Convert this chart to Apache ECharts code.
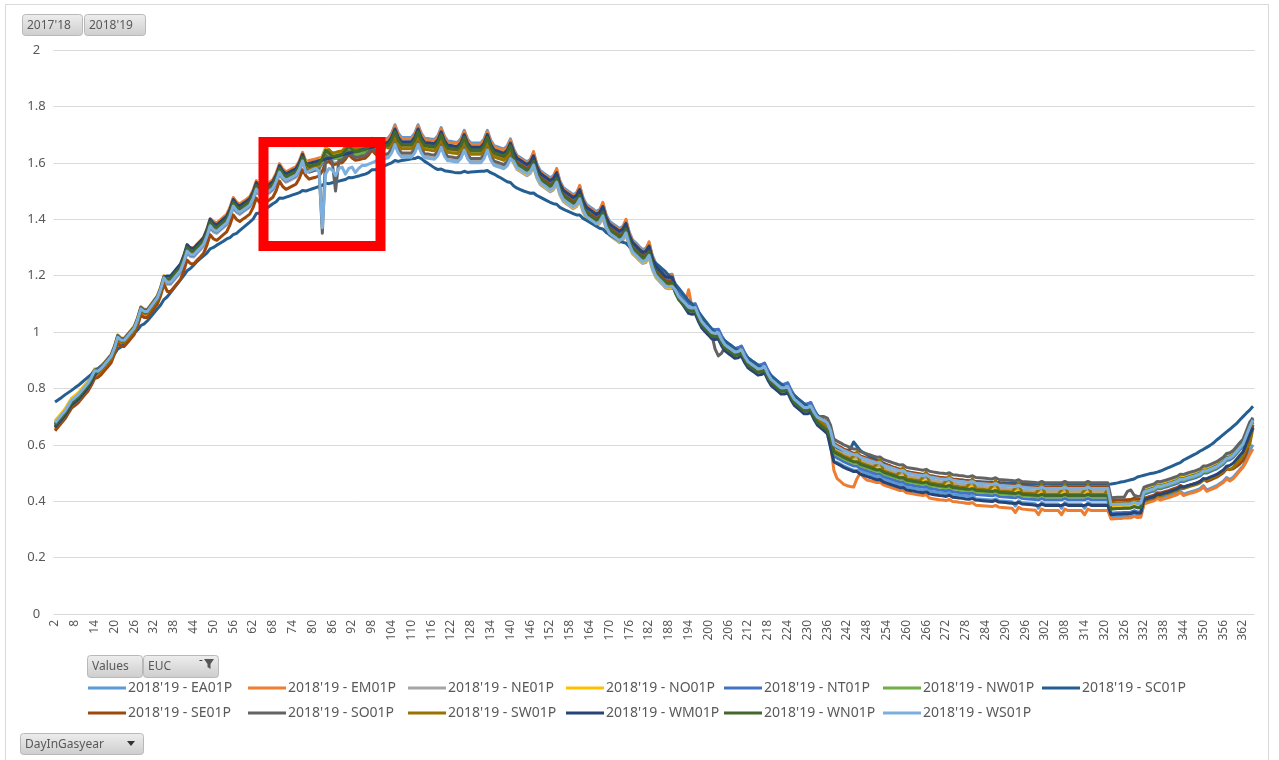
<!DOCTYPE html>
<html>
<head>
<meta charset="utf-8">
<script src="https://cdn.jsdelivr.net/npm/echarts@6/dist/echarts.min.js"></script>
<style>
html,body{margin:0;padding:0;background:#ffffff;}
#chart{width:1279px;height:760px;}
</style>
</head>
<body>
<div id="chart"></div>
<script>
// ---------- DATA (values stored in thousandths of a unit) ----------
const days = [
2,3,4,5,6,7,8,9,10,11,12,13,14,15,16,17,18,19,20,21,
22,23,24,25,26,27,28,29,30,31,32,33,34,35,36,37,38,39,40,41,
42,43,44,45,46,47,48,49,50,51,52,53,54,55,56,57,58,59,60,61,
62,63,64,65,66,67,68,69,70,71,72,73,74,75,76,77,78,79,80,81,
82,83,84,85,86,87,88,89,90,91,92,93,94,95,96,97,98,99,100,101,
102,103,104,105,106,107,108,109,110,111,112,113,114,115,116,117,118,119,120,121,
122,123,124,125,126,127,128,129,130,131,132,133,134,135,136,137,138,139,140,141,
142,143,144,145,146,147,148,149,150,151,152,153,154,155,156,157,158,159,160,161,
162,163,164,165,166,167,168,169,170,171,172,173,174,175,176,177,178,179,180,181,
182,183,184,185,186,187,188,189,190,191,192,193,194,195,196,197,198,199,200,201,
202,203,204,205,206,207,208,209,210,211,212,213,214,215,216,217,218,219,220,221,
222,223,224,225,226,227,228,229,230,231,232,233,234,235,236,237,238,239,240,241,
242,243,244,245,246,247,248,249,250,251,252,253,254,255,256,257,258,259,260,261,
262,263,264,265,266,267,268,269,270,271,272,273,274,275,276,277,278,279,280,281,
282,283,284,285,286,287,288,289,290,291,292,293,294,295,296,297,298,299,300,301,
302,303,304,305,306,307,308,309,310,311,312,313,314,315,316,317,318,319,320,321,
322,323,324,325,326,327,328,329,330,331,332,333,334,335,336,337,338,339,340,341,
342,343,344,345,346,347,348,349,350,351,352,353,354,355,356,357,358,359,360,361,
362,363,364,365];

const yTickValues = [0,0.2,0.4,0.6,0.8,1,1.2,1.4,1.6,1.8,2];

const seriesNames = ["2018'19 - EA01P","2018'19 - EM01P","2018'19 - NE01P","2018'19 - NO01P","2018'19 - NT01P","2018'19 - NW01P","2018'19 - SC01P","2018'19 - SE01P","2018'19 - SO01P","2018'19 - SW01P","2018'19 - WM01P","2018'19 - WN01P","2018'19 - WS01P"];

const ea01p = [
673,687,701,715,734,753,
762,772,786,800,814,834,858,
856,866,880,894,908,938,977,
966,966,980,994,1008,1038,1077,
1068,1068,1084,1100,1116,1146,1187,
1187,1187,1201,1215,1229,1259,1298,
1286,1284,1297,1309,1322,1350,1388,
1373,1368,1378,1388,1398,1423,1458,
1442,1435,1444,1452,1461,1484,1518,
1512,1505,1514,1522,1531,1554,1588,
1569,1559,1565,1571,1577,1597,1628,
1607,1595,1599,1602,1606,1624,1653,
1645,1633,1635,1638,1640,1653,1670,
1657,1649,1651,1654,1656,1668,1685,
1672,1663,1665,1685,1688,1705,1735,
1705,1690,1690,1690,1690,1705,1735,
1704,1687,1686,1684,1683,1696,1725,
1694,1677,1676,1674,1673,1686,1715,
1685,1670,1670,1670,1670,1685,1715,
1681,1661,1657,1653,1649,1659,1685,
1648,1626,1619,1611,1604,1612,1635,
1596,1573,1564,1556,1547,1554,1575,
1536,1513,1504,1496,1487,1494,1515,
1476,1453,1444,1436,1427,1434,1455,
1416,1393,1384,1376,1367,1374,1395,
1354,1327,1316,1304,1293,1296,1315,
1272,1244,1231,1219,1206,1203,1205,
1161,1138,1125,1113,1100,1097,1099,
1071,1048,1035,1023,1010,1007,1009,
985,967,958,950,941,943,949,
925,907,898,890,881,883,889,
864,844,834,824,814,814,819,
794,774,764,754,744,744,749,
724,704,694,684,674,600,540,
538,532,525,520,515,510,510,
506,502,498,494,490,486,487,
478,474,470,466,462,458,459,
450,448,446,444,442,440,443,
436,434,432,430,429,427,431,
424,423,421,420,418,417,420,
409,408,407,406,405,404,408,
402,401,400,399,398,383,401,
395,394,393,392,391,375,395,
390,390,390,390,390,375,395,
390,390,390,390,390,375,395,
390,390,390,390,390,390,342,
343,344,344,345,345,346,351,
347,348,395,399,403,406,415,
409,413,416,420,424,428,436,
425,429,433,436,440,445,455,
440,445,450,455,463,471,484,
477,485,498,512,525,555,580,
600];

const em01p = [
655,669,683,697,716,735,
744,754,768,782,796,816,840,
849,859,873,887,901,931,970,
959,959,973,987,1001,1031,1070,
1061,1061,1077,1093,1109,1139,1180,
1191,1191,1205,1219,1233,1263,1302,
1300,1298,1311,1323,1336,1364,1402,
1392,1387,1397,1407,1417,1442,1477,
1461,1454,1463,1471,1480,1503,1537,
1521,1514,1523,1531,1540,1563,1597,
1578,1568,1574,1580,1586,1606,1637,
1605,1608,1611,1614,1617,1620,1623,
1626,1629,1632,1635,1638,1641,1644,
1647,1650,1653,1656,1659,1662,1665,
1668,1671,1674,1680,1683,1700,1730,
1700,1685,1685,1685,1685,1700,1730,
1699,1682,1681,1679,1678,1691,1720,
1689,1672,1671,1669,1668,1681,1710,
1680,1665,1665,1665,1665,1680,1710,
1676,1656,1652,1648,1644,1654,1680,
1643,1621,1614,1606,1599,1607,1640,
1591,1568,1559,1551,1542,1549,1580,
1531,1508,1499,1491,1482,1489,1520,
1471,1448,1439,1431,1422,1429,1460,
1411,1388,1379,1371,1362,1369,1400,
1349,1322,1311,1299,1288,1291,1320,
1267,1239,1226,1214,1201,1198,1200,
1152,1129,1116,1104,1150,1088,1090,
1062,1039,1026,1014,1001,998,1000,
976,958,949,941,932,934,940,
916,898,889,881,872,874,880,
855,835,825,815,805,805,810,
785,765,755,745,735,735,740,
715,695,685,675,665,600,510,
480,470,460,455,452,450,480,
500,485,475,472,470,466,467,
458,454,450,446,442,438,439,
430,428,426,424,422,420,423,
411,409,407,405,404,402,406,
399,398,396,395,393,392,395,
386,385,384,383,382,381,385,
379,378,377,376,375,360,378,
372,371,370,369,368,352,372,
367,367,367,367,367,352,372,
367,367,367,367,367,352,372,
367,367,367,367,367,367,337,
338,339,339,340,340,341,346,
342,343,390,394,398,401,410,
404,408,411,415,419,423,431,
420,424,428,431,435,440,450,
435,440,445,450,458,466,479,
472,480,493,507,520,540,565,
585];

const ne01p = [
680,694,708,722,741,760,
769,779,793,807,821,841,865,
864,874,888,902,916,946,985,
974,974,988,1002,1016,1046,1085,
1076,1076,1092,1108,1124,1154,1195,
1169,1169,1183,1197,1211,1241,1280,
1268,1266,1279,1291,1304,1332,1370,
1355,1350,1360,1370,1380,1405,1440,
1424,1417,1426,1434,1443,1466,1500,
1484,1477,1486,1494,1503,1526,1560,
1541,1531,1537,1543,1549,1569,1600,
1579,1567,1571,1574,1578,1596,1625,
1610,1598,1600,1603,1605,1618,1635,
1622,1614,1616,1619,1621,1633,1650,
1637,1628,1630,1630,1623,1640,1670,
1640,1625,1625,1625,1625,1640,1670,
1639,1622,1621,1619,1618,1631,1660,
1629,1612,1611,1609,1608,1621,1650,
1620,1605,1605,1605,1605,1620,1650,
1616,1596,1592,1588,1584,1594,1620,
1598,1576,1569,1561,1554,1562,1585,
1546,1523,1514,1506,1497,1504,1525,
1486,1463,1454,1446,1437,1444,1465,
1426,1403,1394,1386,1377,1384,1405,
1366,1343,1334,1326,1317,1324,1345,
1304,1277,1266,1254,1243,1246,1265,
1222,1194,1181,1169,1156,1153,1155,
1152,1129,1116,1104,1091,1088,1090,
1062,1039,1026,1014,1001,998,1000,
976,958,949,941,932,934,940,
916,898,889,881,872,874,880,
855,835,825,815,805,805,810,
785,765,755,745,735,735,740,
715,695,685,675,665,640,590,
583,577,570,565,560,555,555,
546,542,538,534,530,526,527,
518,514,510,506,502,498,499,
490,488,486,484,482,480,483,
476,474,472,470,469,467,471,
464,463,461,460,458,457,460,
454,453,452,451,450,449,453,
447,446,445,444,443,442,446,
440,439,438,437,436,435,440,
435,435,435,435,435,435,440,
435,435,435,435,435,435,440,
435,435,435,435,435,435,382,
383,384,384,385,385,386,391,
387,388,442,446,450,453,462,
461,465,468,472,476,480,488,
487,491,495,498,502,507,517,
517,522,527,532,540,548,561,
564,572,585,599,612,642,672,
697];

const no01p = [
685,699,713,727,746,765,
774,784,798,812,826,846,870,
869,879,893,907,921,951,990,
979,979,993,1007,1021,1051,1090,
1081,1081,1097,1113,1129,1159,1200,
1194,1194,1208,1222,1236,1266,1305,
1293,1291,1304,1316,1329,1357,1395,
1380,1375,1385,1395,1405,1430,1465,
1449,1442,1451,1459,1468,1491,1525,
1509,1502,1511,1519,1528,1551,1585,
1566,1556,1562,1568,1574,1594,1625,
1604,1592,1596,1599,1603,1621,1650,
1643,1631,1633,1636,1638,1651,1668,
1655,1647,1649,1652,1654,1666,1683,
1670,1661,1663,1660,1653,1670,1700,
1670,1655,1655,1655,1655,1670,1700,
1669,1652,1651,1649,1648,1661,1690,
1659,1642,1641,1639,1638,1651,1680,
1650,1635,1635,1635,1635,1650,1680,
1646,1626,1622,1618,1614,1624,1650,
1603,1581,1574,1566,1559,1567,1590,
1551,1528,1519,1511,1502,1509,1530,
1491,1468,1459,1451,1442,1449,1470,
1431,1408,1399,1391,1382,1389,1410,
1371,1348,1339,1331,1322,1329,1350,
1309,1282,1271,1259,1248,1251,1270,
1227,1199,1186,1174,1161,1158,1160,
1157,1134,1121,1109,1096,1093,1095,
1067,1044,1031,1019,1006,1003,1005,
981,963,954,946,937,939,945,
921,903,894,886,877,879,885,
860,840,830,820,810,810,815,
790,770,760,750,740,740,745,
720,700,690,680,670,630,580,
573,567,560,555,550,545,545,
536,532,528,524,520,516,517,
508,504,500,496,492,488,489,
480,478,476,474,472,470,473,
466,464,462,460,459,457,461,
454,453,451,450,448,447,450,
444,443,442,441,440,439,443,
437,436,435,434,433,432,436,
430,429,428,427,426,425,430,
425,425,425,425,425,425,430,
425,425,425,425,425,425,430,
425,425,425,425,425,425,377,
378,379,379,380,380,381,386,
382,383,438,442,446,449,458,
457,461,464,468,472,476,484,
483,487,491,494,498,503,513,
513,518,523,528,536,544,557,
560,568,581,595,608,638,668,
693];

const nt01p = [
665,679,693,707,726,745,
754,764,778,792,806,826,850,
859,869,883,897,911,941,980,
969,969,983,997,1011,1041,1080,
1071,1071,1087,1103,1119,1149,1190,
1174,1174,1188,1202,1216,1246,1285,
1273,1271,1284,1296,1309,1337,1375,
1360,1355,1365,1375,1385,1410,1445,
1429,1422,1431,1439,1448,1471,1505,
1489,1482,1491,1499,1508,1531,1565,
1546,1536,1542,1548,1554,1574,1605,
1584,1572,1576,1579,1583,1601,1630,
1625,1613,1615,1618,1620,1633,1650,
1637,1629,1631,1634,1636,1648,1665,
1652,1643,1645,1665,1668,1685,1715,
1685,1670,1670,1670,1670,1685,1715,
1684,1667,1666,1664,1663,1676,1705,
1674,1657,1656,1654,1653,1666,1695,
1665,1650,1650,1650,1650,1665,1695,
1661,1641,1637,1633,1629,1639,1665,
1628,1606,1599,1591,1584,1592,1615,
1576,1553,1544,1536,1527,1534,1555,
1516,1493,1484,1476,1467,1474,1495,
1456,1433,1424,1416,1407,1414,1435,
1396,1373,1364,1356,1347,1354,1375,
1334,1307,1296,1284,1273,1276,1295,
1252,1224,1211,1199,1186,1183,1185,
1162,1139,1126,1114,1101,1098,1100,
1072,1049,1036,1024,1011,1008,1010,
986,968,959,951,942,944,950,
926,908,899,891,882,884,890,
865,845,835,825,815,815,820,
795,775,765,755,745,745,750,
725,705,695,685,675,610,560,
553,547,540,535,530,525,525,
516,512,508,504,500,496,497,
488,484,480,476,472,468,469,
460,458,456,454,452,450,453,
446,444,442,440,439,437,441,
434,433,431,430,428,427,430,
424,423,422,421,420,419,423,
417,416,415,414,413,412,416,
410,409,408,407,406,405,410,
405,405,405,405,405,405,410,
405,405,405,405,405,405,410,
405,405,405,405,405,405,357,
358,359,359,360,360,361,366,
362,363,425,429,433,436,445,
444,448,451,455,459,463,471,
470,474,478,481,485,490,500,
500,505,510,515,523,531,544,
547,555,568,582,595,625,655,
680];

const nw01p = [
670,684,698,712,731,750,
759,769,783,797,811,831,855,
859,869,883,897,911,941,980,
969,969,983,997,1011,1041,1080,
1071,1071,1087,1103,1119,1149,1190,
1179,1179,1193,1207,1221,1251,1290,
1278,1276,1289,1301,1314,1342,1380,
1365,1360,1370,1380,1390,1415,1450,
1434,1427,1436,1444,1453,1476,1510,
1494,1487,1496,1504,1513,1536,1570,
1551,1541,1547,1553,1559,1579,1610,
1589,1577,1581,1584,1588,1606,1635,
1625,1613,1615,1618,1620,1633,1650,
1637,1629,1631,1634,1636,1648,1665,
1652,1643,1645,1655,1658,1675,1705,
1675,1660,1660,1660,1660,1675,1705,
1674,1657,1656,1654,1653,1666,1695,
1664,1647,1646,1644,1643,1656,1685,
1655,1640,1640,1640,1640,1655,1685,
1651,1631,1627,1623,1619,1629,1655,
1618,1596,1589,1581,1574,1582,1605,
1566,1543,1534,1526,1517,1524,1545,
1506,1483,1474,1466,1457,1464,1485,
1446,1423,1414,1406,1397,1404,1425,
1386,1363,1354,1346,1337,1344,1365,
1324,1297,1286,1274,1263,1266,1285,
1242,1214,1201,1189,1176,1173,1175,
1147,1124,1111,1099,1086,1083,1085,
1057,1034,1021,1009,996,993,995,
971,953,944,936,927,929,935,
911,893,884,876,867,869,875,
850,830,820,810,800,800,805,
780,760,750,740,730,730,735,
710,690,680,670,660,620,570,
563,557,550,545,540,535,535,
526,522,518,514,510,506,507,
498,494,490,486,482,478,479,
470,468,466,464,462,460,463,
456,454,452,450,449,447,451,
444,443,441,440,438,437,440,
434,433,432,431,430,429,433,
427,426,425,424,423,422,426,
420,419,418,417,416,415,420,
415,415,415,415,415,415,420,
415,415,415,415,415,415,420,
415,415,415,415,415,415,372,
373,374,374,375,375,376,381,
377,378,430,434,438,441,450,
449,453,456,460,464,468,476,
475,479,483,486,490,495,505,
505,510,515,520,528,536,549,
552,560,573,587,600,630,660,
685];

const sc01p = [
752,760,768,777,785,793,
802,810,820,830,840,850,865,
870,880,890,900,910,922,940,
947,960,972,985,996,1007,1023,
1029,1040,1054,1068,1082,1096,1115,
1125,1140,1155,1170,1185,1200,1217,
1225,1237,1250,1260,1270,1280,1295,
1300,1308,1315,1322,1330,1335,1345,
1350,1360,1370,1380,1390,1400,1420,
1422,1430,1438,1446,1455,1462,1475,
1474,1478,1482,1486,1490,1494,1502,
1500,1504,1508,1512,1516,1520,1528,
1526,1529,1532,1535,1538,1541,1548,
1547,1550,1553,1557,1560,1565,1575,
1575,1580,1585,1590,1595,1600,1608,
1605,1608,1610,1612,1614,1615,1620,
1615,1605,1598,1590,1582,1576,1578,
1572,1570,1568,1566,1565,1565,1570,
1566,1567,1568,1569,1570,1570,1573,
1565,1560,1553,1547,1540,1533,1530,
1518,1510,1505,1500,1496,1492,1493,
1484,1478,1472,1466,1460,1455,1453,
1442,1436,1430,1425,1420,1415,1415,
1403,1396,1389,1382,1375,1368,1365,
1353,1346,1339,1332,1325,1318,1315,
1303,1296,1290,1283,1277,1270,1267,
1254,1244,1234,1224,1214,1200,1190,
1170,1155,1140,1125,1110,1100,1085,
1070,1055,1040,1025,1010,997,985,
976,968,959,951,942,934,925,
916,908,899,891,882,874,865,
855,845,835,825,815,805,795,
785,775,765,755,745,735,725,
715,705,695,685,675,640,600,
590,585,580,580,585,610,595,
580,572,565,558,552,546,540,
535,530,525,520,516,512,508,
505,502,499,496,494,492,490,
488,486,484,482,480,479,478,
477,476,475,474,473,472,471,
470,469,468,468,467,467,466,
466,465,465,464,464,463,463,
463,462,462,462,461,461,461,
461,461,460,460,460,460,460,
460,460,460,460,460,460,460,
460,460,460,460,460,460,461,
463,465,468,470,473,476,479,
486,489,492,495,498,500,503,
507,512,517,522,527,532,537,
546,552,558,564,570,578,584,
591,598,606,617,626,636,646,
655,665,675,688,700,712,723,
737];

const se01p = [
650,664,678,692,711,730,
739,749,763,777,791,811,835,
839,849,863,877,891,921,960,
949,949,963,977,991,1021,1060,
1051,1051,1067,1083,1099,1129,1170,
1144,1144,1158,1172,1186,1216,1255,
1243,1241,1254,1266,1279,1307,1345,
1330,1325,1335,1345,1355,1380,1415,
1399,1392,1401,1409,1418,1441,1475,
1459,1452,1461,1469,1478,1501,1535,
1516,1506,1512,1518,1524,1544,1575,
1554,1542,1546,1549,1553,1571,1600,
1605,1593,1595,1598,1600,1613,1630,
1617,1609,1611,1614,1616,1628,1645,
1632,1623,1625,1658,1661,1678,1708,
1678,1663,1663,1663,1663,1678,1708,
1677,1660,1659,1657,1656,1669,1698,
1667,1650,1649,1647,1646,1659,1688,
1658,1643,1643,1643,1643,1658,1688,
1654,1634,1630,1626,1622,1632,1658,
1623,1601,1594,1586,1579,1587,1610,
1571,1548,1539,1531,1522,1529,1550,
1511,1488,1479,1471,1462,1469,1490,
1451,1428,1419,1411,1402,1409,1430,
1391,1368,1359,1351,1342,1349,1370,
1329,1302,1291,1279,1268,1271,1290,
1247,1219,1206,1194,1181,1178,1180,
1144,1121,1108,1096,1083,1080,1082,
1054,1031,1018,1006,993,990,992,
968,950,941,933,924,926,932,
908,890,881,873,864,866,872,
847,827,817,807,797,797,802,
777,757,747,737,727,727,732,
707,695,692,688,680,655,605,
598,592,585,580,575,570,570,
561,557,553,549,545,541,542,
533,529,525,521,517,513,514,
505,503,501,499,497,495,498,
491,489,487,485,484,482,486,
479,478,476,475,473,472,475,
469,468,467,466,465,464,468,
462,461,460,459,458,457,461,
455,454,453,452,451,450,455,
450,450,450,450,450,450,455,
450,450,450,450,450,450,455,
450,450,450,450,450,450,402,
403,404,404,405,405,406,411,
407,408,410,414,418,421,430,
429,433,436,440,444,448,456,
450,454,458,461,465,470,480,
470,475,480,485,493,501,514,
512,515,523,532,545,570,610,
670];

const so01p = [
675,689,703,717,736,755,
764,774,788,802,816,836,860,
867,877,891,905,919,949,988,
977,977,991,1005,1019,1049,1088,
1079,1079,1095,1111,1127,1157,1198,
1182,1182,1196,1210,1224,1254,1293,
1281,1279,1292,1304,1317,1345,1383,
1368,1363,1373,1383,1393,1418,1453,
1437,1430,1439,1447,1456,1479,1513,
1497,1490,1499,1507,1516,1539,1573,
1554,1544,1550,1556,1562,1582,1613,
1579,1567,1571,1574,1578,1350,1625,
1615,1603,1500,1608,1610,1623,1640,
1627,1619,1621,1624,1626,1638,1655,
1642,1633,1635,1630,1633,1650,1680,
1650,1635,1635,1635,1635,1650,1680,
1649,1632,1631,1629,1628,1641,1670,
1639,1622,1621,1619,1618,1631,1660,
1630,1615,1615,1615,1615,1630,1660,
1626,1606,1602,1598,1594,1604,1630,
1608,1586,1579,1571,1564,1572,1595,
1556,1533,1524,1516,1507,1514,1535,
1496,1473,1464,1456,1447,1454,1475,
1436,1413,1404,1396,1387,1394,1415,
1376,1353,1344,1336,1327,1334,1355,
1314,1287,1276,1264,1253,1256,1275,
1232,1204,1191,1179,1166,1163,1165,
1142,1119,1106,1094,1081,1078,1080,
1052,1029,1016,1004,991,940,915,
925,948,939,931,922,924,930,
906,888,879,871,862,864,870,
845,825,815,805,795,795,800,
775,755,745,735,725,725,730,
710,700,700,700,695,670,620,
613,607,600,595,590,585,585,
576,572,568,564,560,556,557,
548,544,540,536,532,528,529,
520,518,516,514,512,510,513,
506,504,502,500,499,497,501,
494,493,491,490,488,487,490,
484,483,482,481,480,479,483,
477,476,475,474,473,472,476,
470,469,468,467,466,465,470,
465,465,465,465,465,465,470,
465,465,465,465,465,465,470,
465,465,465,465,465,465,412,
413,414,414,415,435,440,421,
417,418,450,454,458,461,470,
469,473,476,480,484,488,496,
495,499,503,506,510,515,525,
525,530,535,540,548,556,569,
572,580,593,607,620,650,680,
695];

const sw01p = [
660,674,688,702,721,740,
749,759,773,787,801,821,845,
854,864,878,892,906,936,975,
964,964,978,992,1006,1036,1075,
1066,1066,1082,1098,1114,1144,1185,
1184,1184,1198,1212,1226,1256,1295,
1283,1281,1294,1306,1319,1347,1385,
1370,1365,1375,1385,1395,1420,1455,
1439,1432,1441,1449,1458,1481,1515,
1499,1492,1501,1509,1518,1541,1575,
1556,1546,1552,1558,1564,1584,1615,
1594,1582,1586,1589,1593,1611,1640,
1647,1635,1637,1640,1642,1655,1672,
1659,1651,1653,1656,1658,1670,1687,
1674,1665,1667,1660,1653,1665,1695,
1665,1650,1650,1650,1650,1665,1695,
1664,1647,1646,1644,1643,1656,1685,
1654,1637,1636,1634,1633,1646,1675,
1645,1630,1630,1630,1630,1645,1675,
1641,1621,1617,1613,1609,1619,1645,
1613,1591,1584,1576,1569,1577,1600,
1561,1538,1529,1521,1512,1519,1540,
1501,1478,1469,1461,1452,1459,1480,
1441,1418,1409,1401,1392,1399,1420,
1381,1358,1349,1341,1332,1339,1360,
1319,1292,1281,1269,1258,1261,1280,
1237,1209,1196,1184,1171,1168,1170,
1147,1124,1111,1099,1086,1083,1085,
1057,1034,1021,1009,996,993,995,
971,953,944,936,927,929,935,
911,893,884,876,867,869,875,
850,830,820,810,800,800,805,
780,760,750,740,730,730,735,
710,690,680,670,660,630,580,
573,567,560,555,550,560,575,
536,532,528,524,520,531,547,
508,504,500,496,492,503,519,
480,478,476,474,472,485,503,
466,464,462,460,459,472,491,
454,453,451,450,448,462,480,
444,443,442,441,440,454,473,
437,436,435,434,433,447,466,
430,429,428,427,426,440,460,
425,425,425,425,425,440,460,
425,425,425,425,425,440,460,
425,425,425,425,425,440,392,
393,394,394,395,395,396,401,
397,398,400,404,408,411,420,
419,423,426,430,434,438,446,
445,449,453,456,460,465,475,
475,480,485,490,498,506,519,
512,520,533,547,560,590,600,
660];

const wm01p = [
662,676,690,704,723,742,
751,761,775,789,803,823,847,
862,872,886,900,914,944,983,
972,972,986,1000,1014,1044,1083,
1074,1074,1090,1106,1122,1152,1193,
1199,1199,1213,1227,1241,1271,1310,
1298,1296,1309,1321,1334,1362,1400,
1385,1380,1390,1400,1410,1435,1470,
1454,1447,1456,1464,1473,1496,1530,
1514,1507,1516,1524,1533,1556,1590,
1571,1561,1567,1573,1579,1599,1630,
1595,1598,1601,1604,1607,1610,1613,
1616,1619,1622,1625,1628,1631,1634,
1637,1640,1643,1646,1649,1652,1655,
1658,1661,1664,1670,1673,1690,1720,
1690,1675,1675,1675,1675,1690,1720,
1689,1672,1671,1669,1668,1681,1710,
1679,1662,1661,1659,1658,1671,1700,
1670,1655,1655,1655,1655,1670,1700,
1666,1646,1642,1638,1634,1644,1670,
1638,1616,1609,1601,1594,1602,1625,
1586,1563,1554,1546,1537,1544,1565,
1526,1503,1494,1486,1477,1484,1505,
1466,1443,1434,1426,1417,1424,1445,
1406,1383,1374,1366,1357,1364,1385,
1344,1317,1306,1294,1283,1286,1305,
1262,1234,1221,1209,1196,1193,1195,
1157,1124,1101,1084,1066,1063,1065,
1037,1014,1001,989,976,973,975,
951,933,924,916,907,909,915,
891,873,864,856,847,849,855,
830,810,800,790,780,780,785,
760,740,730,720,710,710,715,
690,670,660,650,640,590,540,
533,527,520,515,510,505,505,
496,492,488,484,480,476,477,
468,464,460,456,452,448,449,
440,438,436,434,432,430,433,
426,424,422,420,419,417,421,
414,413,411,410,408,407,410,
404,403,402,401,400,399,403,
397,396,395,394,393,392,396,
390,389,388,387,386,385,390,
385,385,385,385,385,385,390,
385,385,385,385,385,385,390,
385,385,385,385,385,385,352,
353,354,354,355,355,356,361,
357,358,405,409,413,416,425,
424,428,431,435,439,443,451,
450,454,458,461,465,470,480,
480,485,490,495,503,511,524,
527,535,548,562,575,605,635,
660];

const wn01p = [
670,684,698,712,731,750,
759,769,783,797,811,831,855,
859,869,883,897,911,941,980,
969,969,983,997,1011,1041,1080,
1071,1071,1087,1103,1119,1149,1190,
1189,1189,1203,1217,1231,1261,1300,
1288,1286,1299,1311,1324,1352,1390,
1375,1370,1380,1390,1400,1425,1460,
1444,1437,1446,1454,1463,1486,1520,
1504,1497,1506,1514,1523,1546,1580,
1561,1551,1557,1563,1569,1589,1620,
1599,1587,1591,1594,1598,1616,1645,
1635,1623,1625,1628,1630,1643,1660,
1647,1639,1641,1644,1646,1658,1675,
1662,1653,1655,1660,1663,1680,1710,
1680,1665,1665,1665,1665,1680,1710,
1679,1662,1661,1659,1658,1671,1700,
1669,1652,1651,1649,1648,1661,1690,
1660,1645,1645,1645,1645,1660,1690,
1656,1636,1632,1628,1624,1634,1660,
1618,1596,1589,1581,1574,1582,1605,
1566,1543,1534,1526,1517,1524,1545,
1506,1483,1474,1466,1457,1464,1485,
1446,1423,1414,1406,1397,1404,1425,
1386,1363,1354,1346,1337,1344,1365,
1324,1297,1286,1274,1263,1266,1285,
1242,1214,1201,1189,1176,1173,1175,
1137,1114,1101,1089,1076,1073,1075,
1047,1024,1011,999,986,983,985,
961,943,934,926,917,919,925,
901,883,874,866,857,859,865,
840,820,810,800,790,790,795,
770,750,740,730,720,720,725,
700,680,670,660,650,625,575,
568,562,555,550,545,540,540,
531,527,523,519,515,511,512,
503,499,495,491,487,483,484,
475,473,471,469,467,465,468,
461,459,457,455,454,452,456,
449,448,446,445,443,442,445,
439,438,437,436,435,434,438,
432,431,430,429,428,427,431,
425,424,423,422,421,420,425,
420,420,420,420,420,420,425,
420,420,420,420,420,420,425,
420,420,420,420,420,420,372,
373,374,374,375,375,376,381,
377,378,435,439,443,446,455,
454,458,461,465,469,473,481,
480,484,488,491,495,500,510,
510,515,520,525,533,541,554,
557,565,578,592,605,635,665,
690];

const ws01p = [
678,692,706,720,739,758,
767,777,791,805,819,839,863,
861,871,885,899,913,943,982,
971,971,985,999,1013,1043,1082,
1073,1073,1089,1105,1121,1151,1192,
1176,1176,1190,1204,1218,1248,1287,
1275,1273,1286,1298,1311,1339,1377,
1362,1357,1367,1377,1387,1412,1447,
1431,1424,1433,1441,1450,1473,1507,
1491,1484,1493,1501,1510,1533,1567,
1548,1538,1544,1550,1556,1576,1607,
1565,1570,1575,1580,1570,1370,1560,
1580,1575,1555,1580,1585,1560,1580,
1585,1565,1580,1590,1590,1595,1600,
1605,1610,1615,1615,1618,1635,1665,
1635,1620,1620,1620,1620,1635,1665,
1634,1617,1616,1614,1613,1626,1655,
1624,1607,1606,1604,1603,1616,1645,
1615,1600,1600,1600,1600,1615,1645,
1611,1591,1587,1583,1579,1589,1615,
1605,1583,1576,1568,1561,1569,1592,
1553,1530,1521,1513,1504,1511,1532,
1493,1470,1461,1453,1444,1451,1472,
1433,1410,1401,1393,1384,1391,1412,
1373,1350,1341,1333,1324,1331,1352,
1311,1284,1273,1261,1250,1253,1272,
1229,1201,1188,1176,1163,1160,1162,
1149,1126,1113,1101,1088,1085,1087,
1059,1036,1023,1011,998,995,997,
973,955,946,938,929,931,937,
913,895,886,878,869,871,877,
852,832,822,812,802,802,807,
782,762,752,742,732,732,737,
715,698,692,686,678,650,600,
593,587,580,575,570,565,565,
556,552,548,544,540,536,537,
528,524,520,516,512,508,509,
500,498,496,494,492,490,493,
486,484,482,480,479,477,481,
474,473,471,470,468,467,470,
464,463,462,461,460,459,463,
457,456,455,454,453,452,456,
450,449,448,447,446,445,450,
445,445,445,445,445,445,450,
445,445,445,445,445,445,450,
445,445,445,445,445,445,387,
388,389,389,390,390,391,396,
392,393,433,437,441,444,453,
452,456,459,463,467,471,479,
478,482,486,489,493,498,508,
508,513,518,523,531,539,552,
555,563,576,590,603,633,663,
688];

const seriesValues = [ea01p, em01p, ne01p, no01p, nt01p, nw01p, sc01p, se01p, so01p, sw01p, wm01p, wn01p, ws01p];
const VALUE_UNIT = 1000; // arrays above are in thousandths

// ---------- STYLE ----------
const seriesColors = ['#5B9BD5','#ED7D31','#A5A5A5','#FFC000','#4472C4','#70AD47','#255E91','#9E480E','#636363','#997300','#264478','#43682B','#7CAFDD'];
const FONT = "'Noto Sans', 'Open Sans', 'DejaVu Sans', sans-serif";
const TXT = '#595959';
const legendSlots = [
  [88,680],[248,680],[408,680],[566,680],[724,680],[883,680],[1042,680],
  [88,705],[248,705],[408,705],[566,705],[724,705],[883,705]
];

function btnFill(){
  return new echarts.graphic.LinearGradient(0,0,0,1,[{offset:0,color:'#eeeeee'},{offset:1,color:'#cdcdcd'}]);
}
function button(x,y,w,h,label,fs){
  return [
    {type:'rect', shape:{x:x+0.5,y:y+0.5,width:w,height:h,r:3}, style:{fill:btnFill(), stroke:'#b9b9b9', lineWidth:1}, z:10},
    {type:'text', x:x+5, y:y+h/2+1, style:{text:label, fill:TXT, fontSize:fs||12, fontFamily:FONT, verticalAlign:'middle', align:'left'}, z:11}
  ];
}

const graphics = [].concat(
  [{type:'rect', shape:{x:5.5,y:4.5,width:1263,height:780}, style:{fill:'transparent', stroke:'#d9d9d9', lineWidth:1}, z:0, silent:true}],
  button(22,14,60,21,"2017'18"),
  button(84,14,61,21,"2018'19"),
  button(87,655,55,22,"Values",12),
  button(143,655,75,22,"EUC",12),
  [
    {type:'text', x:199, y:661, style:{text:'-', fill:'#444', fontSize:12, fontFamily:FONT, verticalAlign:'middle'}, z:12},
    {type:'polygon', shape:{points:[[204,659],[214,659],[210.5,664],[210.5,669],[207.5,667],[207.5,664]]}, style:{fill:'#555'}, z:12}
  ],
  button(20,733,123,21,"DayInGasyear",12),
  [
    {type:'polygon', shape:{points:[[127,741],[135,741],[131,746]]}, style:{fill:'#333'}, z:12},
    {type:'rect', shape:{x:263.5,y:142,width:117,height:104}, style:{fill:'transparent', stroke:'#ff0000', lineWidth:10}, z:200, silent:true}
  ]
);

const legends = seriesNames.map((name,i)=>({
  data:[name], left:legendSlots[i][0], top:legendSlots[i][1], orient:'horizontal',
  icon:'rect', itemWidth:38, itemHeight:3, itemGap:0, padding:0, selectedMode:false,
  textStyle:{color:TXT, fontSize:14, fontFamily:FONT, lineHeight:16, padding:[0,0,0,-3]}
}));

const series = seriesNames.map((name,i)=>({
  name:name, type:'line', data:seriesValues[i].map(v=>v/VALUE_UNIT),
  showSymbol:false, symbol:'none', smooth:false,
  lineStyle:{width:3, color:seriesColors[i], join:'round'},
  itemStyle:{color:seriesColors[i]},
  emphasis:{disabled:true}, animation:false
}));

const option = {
  animation:false,
  backgroundColor:'#ffffff',
  textStyle:{fontFamily:FONT},
  grid:{left:53.4, top:50, width:1201.2, height:564, containLabel:false},
  xAxis:{
    type:'category', data:days, boundaryGap:true,
    axisLine:{show:false}, axisTick:{show:false},
    axisLabel:{interval:(idx)=>idx%6===0, rotate:90, fontSize:12, color:TXT, fontFamily:FONT, margin:6},
    splitLine:{show:false}
  },
  yAxis:{
    type:'value', min:yTickValues[0], max:yTickValues[yTickValues.length-1], interval:0.2,
    axisLine:{show:false}, axisTick:{show:false},
    axisLabel:{fontSize:13, color:TXT, fontFamily:FONT, align:'center', margin:17},
    splitLine:{show:true, lineStyle:{color:'#d9d9d9', width:1}}
  },
  legend:legends,
  graphic:graphics,
  series:series
};

const chart = echarts.init(document.getElementById('chart'));
chart.setOption(option);
</script>
</body>
</html>
